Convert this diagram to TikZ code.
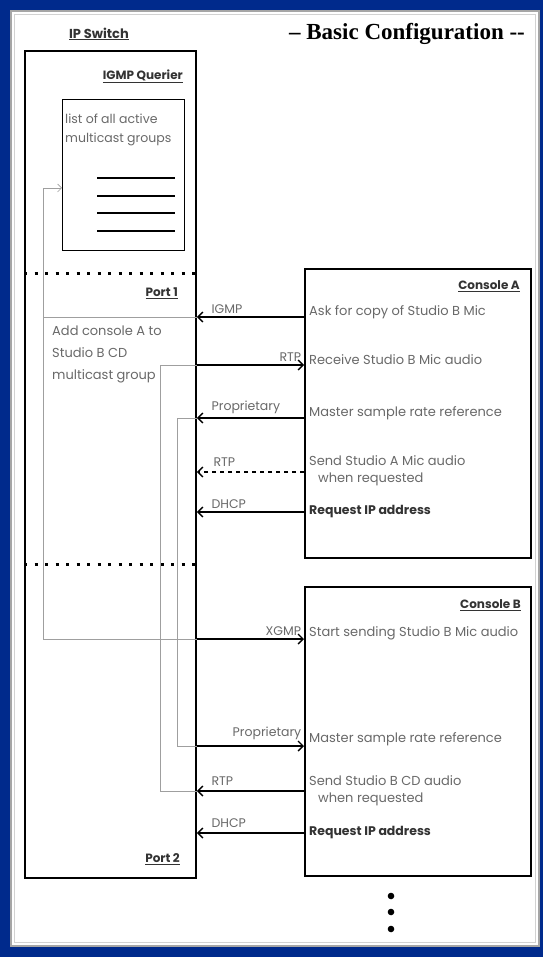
\documentclass[tikz,border=0pt]{standalone}
\usepackage{fontspec}
\newfontfamily\diafont{Poppins}
\newfontfamily\titlefont{Liberation Serif}
\usetikzlibrary{arrows.meta}
\definecolor{slideblue}{RGB}{0,42,140}
\definecolor{textgray}{RGB}{105,105,105}

\begin{document}
\begin{tikzpicture}[x=1pt, y=-1pt,
    box/.style={draw, line width=1.8pt, anchor=north west, inner sep=0pt},
    txt/.style={font=\diafont\fontsize{13}{17}\selectfont, text=textgray, inner sep=0pt, align=left},
    lbl/.style={font=\diafont\fontsize{12.5}{14}\selectfont, text=textgray, inner sep=0pt},
    heading/.style={font=\diafont\bfseries\fontsize{12}{14}\selectfont, text=black!80, inner sep=0pt},
    msg/.style={line width=1.6pt, -{Straight Barb[length=5pt, width=10pt, line width=1.4pt]}},
    route/.style={draw=gray!75, line width=0.7pt},
    portline/.style={line width=3pt, dash pattern=on 3pt off 7.5pt}]

% slide background
\fill[slideblue] (0,0) rectangle (543,957);
\useasboundingbox (0,0) rectangle (543,957);
\fill[white] (10,10) rectangle (540,947);
\draw[gray!70, line width=1.2pt] (11,11) rectangle (539,946);
\draw[gray!35, line width=0.5pt] (14.5,14.5) rectangle (535.5,942.5);

\node[font=\titlefont\bfseries\fontsize{23}{26}\selectfont] (title) at (407,34) {– Basic Configuration -{}-};

% IP switch
\node[box, minimum width=171pt, minimum height=827pt] (switch) at (24,50) {};
\node[heading, font=\diafont\bfseries\fontsize{13}{15}\selectfont] (switchlbl) at (99,34) {\underline{IP Switch}};
\node[heading, anchor=east] (querier) at (183,76) {\underline{IGMP Querier}};
\node[box, line width=1.1pt, minimum width=122pt, minimum height=151pt] (list) at (62,99) {};
\node[txt, anchor=north west, font=\diafont\fontsize{12.5}{19}\selectfont] (listtxt) at (65,114) {list of all active\\multicast groups};
\foreach \y in {178,196,213,231}
    \draw[line width=1.1pt] (97,\y) -- (175,\y);
\draw[portline] (switch.west |- 0,274) -- (switch.east |- 0,274);
\node[heading, anchor=east] (port1) at (178,293) {\underline{Port 1}};
\node[txt, anchor=north west, font=\diafont\fontsize{13}{22}\selectfont] (addtxt) at (52,326) {Add console A to\\Studio B CD\\multicast group};
\draw[portline] (switch.west |- 0,564) -- (switch.east |- 0,564);
\node[heading, anchor=east] (port2) at (180,859) {\underline{Port 2}};

% consoles
\node[box, minimum width=226pt, minimum height=289pt] (conA) at (304,268) {};
\node[heading, anchor=east] (conAlbl) at (520,286) {\underline{Console A}};
\node[box, minimum width=226pt, minimum height=289pt] (conB) at (304,586) {};
\node[heading, anchor=east] (conBlbl) at (521,605) {\underline{Console B}};

\coordinate (ra1) at (304,317);
\coordinate (ra2) at (304,365);
\coordinate (ra3) at (304,418);
\coordinate (ra4) at (304,472);
\coordinate (ra5) at (304,512);
\coordinate (rb1) at (304,639);
\coordinate (rb2) at (304,746);
\coordinate (rb3) at (304,791);
\coordinate (rb4) at (304,833);

\node[txt, anchor=west] (ta1) at (309,312) {Ask for copy of Studio B Mic};
\node[txt, anchor=west] (ta2) at (309,360) {Receive Studio B Mic audio};
\node[txt, anchor=west] (ta3) at (309,413) {Master sample rate reference};
\node[txt, anchor=north west] (ta4) at (309,455) {Send Studio A Mic audio\\\hspace*{9pt}when requested};
\node[txt, anchor=west, text=black!80, font=\diafont\bfseries\fontsize{12.5}{17}\selectfont] (ta5) at (309,512) {Request IP address};
\node[txt, anchor=west] (tb1) at (309,633) {Start sending Studio B Mic audio};
\node[txt, anchor=west] (tb2) at (309,739) {Master sample rate reference};
\node[txt, anchor=north west] (tb3) at (309,775) {Send Studio B CD audio\\\hspace*{9pt}when requested};
\node[txt, anchor=west, text=black!80, font=\diafont\bfseries\fontsize{12.5}{17}\selectfont] (tb4) at (309,833) {Request IP address};

% routes inside the switch
\coordinate (q1) at (43,188);
\coordinate (q3) at (160,365);
\coordinate (q4) at (177,746);
\draw[route, -{Straight Barb[length=4pt, width=8pt]}] (switch.east |- rb1) -| (q1) -- (list.west |- q1);
\draw[route] (q1 |- ra1) -- (switch.east |- ra1);
\draw[route] (switch.east |- rb3) -| (q3) -- (switch.east |- ra2);
\draw[route] (switch.east |- ra3) -| (q4) -- (switch.east |- rb2);

% messages
\draw[msg] (conA.west |- ra1) -- (switch.east |- ra1) node[lbl, at end, anchor=south west, xshift=14pt, yshift=3pt] {IGMP};
\draw[msg] (switch.east |- ra2) -- (conA.west |- ra2) node[lbl, at end, anchor=south east, xshift=-2pt, yshift=3pt] {RTP};
\draw[msg] (conA.west |- ra3) -- (switch.east |- ra3) node[lbl, at end, anchor=south west, xshift=14pt, yshift=3pt] {Proprietary};
\draw[msg, dash pattern=on 4pt off 4pt] (conA.west |- ra4) -- (switch.east |- ra4) node[lbl, at end, anchor=south west, xshift=16pt, yshift=5pt] {RTP};
\draw[msg] (conA.west |- ra5) -- (switch.east |- ra5) node[lbl, at end, anchor=south west, xshift=14pt, yshift=3pt] {DHCP};
\draw[msg] (switch.east |- rb1) -- (conB.west |- rb1) node[lbl, at end, anchor=south east, xshift=-2pt, yshift=3pt] {XGMP};
\draw[msg] (switch.east |- rb2) -- (conB.west |- rb2) node[lbl, at end, anchor=south east, xshift=-2pt, yshift=5pt] {Proprietary};
\draw[msg] (conB.west |- rb3) -- (switch.east |- rb3) node[lbl, at end, anchor=south west, xshift=14pt, yshift=5pt] {RTP};
\draw[msg] (conB.west |- rb4) -- (switch.east |- rb4) node[lbl, at end, anchor=south west, xshift=14pt, yshift=5pt] {DHCP};

% more consoles
\foreach \y in {896,912,929}
    \fill (391,\y) circle (3.3pt);
\end{tikzpicture}
\end{document}
